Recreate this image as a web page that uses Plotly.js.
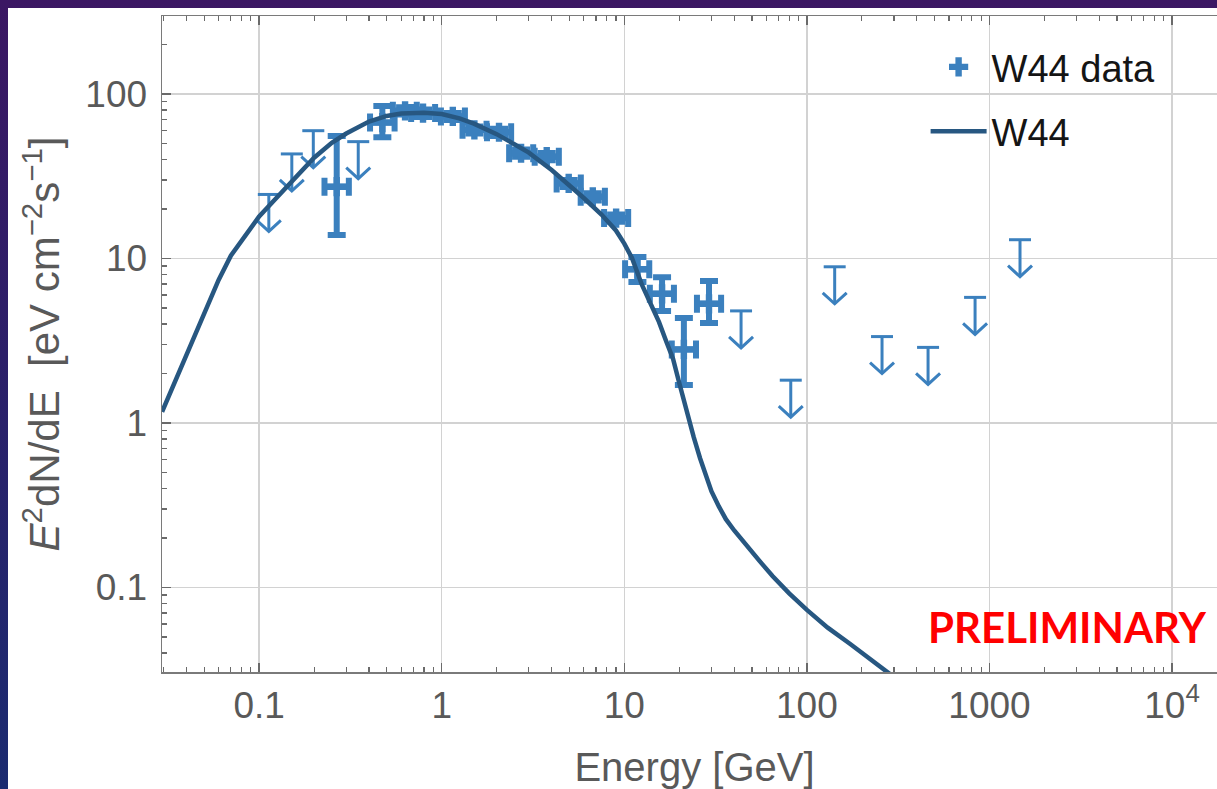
<!DOCTYPE html>
<html>
<head>
<meta charset="utf-8">
<script src="https://cdn.plot.ly/plotly-3.0.1.min.js"></script>
<style>
  html, body { margin:0; padding:0; width:1217px; height:789px; overflow:hidden;
    background: linear-gradient(180deg, #3b1763 0%, #2c1f69 45%, #1b2b70 100%); }
  #panel { position:absolute; left:8px; top:8px; width:1209px; height:781px; background:#ffffff; }
  #chart { position:absolute; left:0; top:0; }
</style>
</head>
<body>
<div id="panel"></div>
<div id="chart"></div>
<script>
// ---- W44 Fermi-LAT data points (E in GeV, E^2 dN/dE in eV cm^-2 s^-1) ----
var energy = [0.266, 0.473, 0.63, 0.79, 1.15, 1.51, 2.06, 2.72, 3.76, 4.96, 6.72, 9.02, 11.8, 16.1, 21.2, 29.1];
var flux   = [27.3, 67, 79, 76.5, 73, 60.5, 58.5, 43.6, 41.6, 28.6, 23.7, 17.6, 8.6, 6.1, 2.8, 5.3];
var energyLow  = [0.228, 0.405, 0.54, 0.68, 0.99, 1.30, 1.77, 2.34, 3.23, 4.26, 5.77, 7.75, 10.1, 13.8, 18.2, 25.0];
var energyHigh = [0.310, 0.552, 0.73, 0.92, 1.34, 1.76, 2.40, 3.17, 4.38, 5.78, 7.83, 10.5, 13.7, 18.7, 24.7, 33.9];
var fluxLow  = [13.9, 54.5, 75, 72.5, 69.5, 57.5, 55.5, 41.5, 39.5, 27.2, 22.5, 16.7, 7.2, 4.8, 1.7, 4.05];
var fluxHigh = [55.6, 84.5, 83, 80.5, 76.5, 63.5, 61.5, 46, 43.8, 30, 24.9, 18.5, 10.2, 7.7, 4.35, 7.3];

// ---- upper limits ----
var ulEnergy = [0.113, 0.151, 0.198, 0.349, 43.6, 81.6, 142, 258, 461, 834, 1470];
var ulFlux   = [24.5, 43.2, 59.8, 51.3, 4.8, 1.82, 8.9, 3.35, 2.88, 5.8, 13];

// ---- W44 model curve ----
var modelEnergy = [0.0294, 0.035, 0.04, 0.05, 0.06, 0.07, 0.08, 0.1, 0.125, 0.15, 0.2, 0.25, 0.3, 0.4, 0.5, 0.6, 0.8, 1.0, 1.25, 1.5, 2.0, 2.5, 3.0, 4.0, 5.0, 6.0, 7.5, 9.0, 10, 11, 12.5, 14, 15.5, 17, 18.5, 20, 22, 24, 26, 28, 30, 33, 36, 40, 47, 55, 65, 80, 100, 130, 172, 220, 285, 320];
var modelFlux   = [1.17, 1.83, 2.65, 4.7, 7.4, 10.4, 12.8, 18, 23.5, 29, 41, 50.5, 57.5, 68, 73.5, 76, 77, 75.5, 71, 66, 57, 49.5, 44, 34.5, 28, 23.3, 18.5, 14.8, 12.3, 10.1, 6.9, 5.2, 4.1, 3.12, 2.45, 1.75, 1.15, 0.82, 0.61, 0.47, 0.385, 0.31, 0.26, 0.222, 0.177, 0.145, 0.117, 0.092, 0.073, 0.057, 0.0455, 0.037, 0.030, 0.027];

// ---- axis ticks ----
var xTickVals = [0.1, 1, 10, 100, 1000, 10000];
var xTickText = ['0.1', '1', '10', '100', '1000', '10<sup>4</sup>'];
var yTickVals = [0.1, 1, 10, 100];
var yTickText = ['0.1', '1', '10', '100'];

var dataColor = '#3b80be';
var modelColor = '#275781';
var labelColor = '#595959';
var baseFont = 'Liberation Sans, Arial, sans-serif';

function minorTicks(decades) {
  var out = [];
  decades.forEach(function (d) { for (var k = 2; k <= 9; k++) out.push(d * k); });
  return out;
}

// upper-limit glyphs (cap, shaft, chevron) built from the UL arrays
var capF = Math.pow(10, 11 / 182.6);
var shaftF = Math.pow(10, -37 / 164.5);
var headX = Math.pow(10, 12 / 182.6);
var headY = Math.pow(10, 11 / 164.5);
var ulX = [], ulY = [];
for (var i = 0; i < ulEnergy.length; i++) {
  var e = ulEnergy[i], f = ulFlux[i], tip = f * shaftF;
  ulX.push(e / capF, e * capF, null, e, e, null, e / headX, e, e * headX, null);
  ulY.push(f, f, null, f, tip, null, tip * headY, tip, tip * headY, null);
}

var traces = [
  {
    x: energy, y: flux, type: 'scatter', mode: 'markers', name: 'W44 data',
    legendgroup: 'a',
    marker: { symbol: 'cross', size: 16, color: dataColor, line: { width: 0 } },
    error_x: { type: 'data', symmetric: false,
      array: energy.map(function (v, i) { return energyHigh[i] - v; }),
      arrayminus: energy.map(function (v, i) { return v - energyLow[i]; }),
      color: dataColor, thickness: 6, width: 9 },
    error_y: { type: 'data', symmetric: false,
      array: flux.map(function (v, i) { return fluxHigh[i] - v; }),
      arrayminus: flux.map(function (v, i) { return v - fluxLow[i]; }),
      color: dataColor, thickness: 6, width: 9 }
  },
  {
    x: ulX, y: ulY, type: 'scatter', mode: 'lines', showlegend: false,
    line: { color: dataColor, width: 3 }, hoverinfo: 'skip'
  },
  {
    x: modelEnergy, y: modelFlux, type: 'scatter', mode: 'lines', name: 'W44',
    legendgroup: 'b',
    line: { color: modelColor, width: 4.5 }
  }
];

var axisCommon = {
  type: 'log', ticks: 'inside', ticklen: 9, tickwidth: 1.5, tickcolor: '#6a6a6a',
  showline: true, linecolor: '#7a7a7a', linewidth: 1.5, mirror: 'ticks',
  showgrid: true, gridcolor: '#d2d2d2', gridwidth: 1.3, zeroline: false,
  tickfont: { family: baseFont, size: 37, color: labelColor }
};

var layout = {
  width: 1240, height: 789,
  margin: { l: 162, r: 13, t: 16, b: 117 },
  paper_bgcolor: 'rgba(0,0,0,0)', plot_bgcolor: 'rgba(0,0,0,0)',
  showlegend: true,
  xaxis: Object.assign({}, axisCommon, {
    range: [-1.532, 4.301], tickmode: 'array', tickvals: xTickVals, ticktext: xTickText,
    ticklabelstandoff: 0,
    minor: { tickvals: minorTicks([0.01, 0.1, 1, 10, 100, 1000, 10000]), ticks: 'inside', ticklen: 5,
             tickwidth: 1.2, tickcolor: '#6a6a6a', showgrid: false },
    title: { text: 'Energy [GeV]', standoff: 35,
             font: { family: baseFont, size: 40, color: labelColor } }
  }),
  yaxis: Object.assign({}, axisCommon, {
    range: [-1.514, 2.474], tickmode: 'array', tickvals: yTickVals, ticktext: yTickText,
    ticklabelstandoff: 6,
    minor: { tickvals: minorTicks([0.01, 0.1, 1, 10, 100]), ticks: 'inside', ticklen: 5,
             tickwidth: 1.2, tickcolor: '#6a6a6a', showgrid: false },
    title: { text: '<i>E</i><sup>2</sup>dN/dE\u00a0\u00a0[eV cm<sup>\u22122</sup>s<sup>\u22121</sup>]', standoff: 12,
             font: { family: baseFont, size: 42, color: labelColor } }
  }),
  legend: {
    x: 0.717, y: 0.97, xanchor: 'left', yanchor: 'top',
    bgcolor: 'rgba(0,0,0,0)', borderwidth: 0, itemwidth: 56,
    traceorder: 'grouped', tracegroupgap: 12,
    font: { family: baseFont, size: 38, color: '#151515' }
  },
  annotations: [{
    xref: 'paper', yref: 'paper', x: 0.983, y: 0.0686, xanchor: 'right', yanchor: 'middle',
    text: '<b>PRELIMINARY</b>', showarrow: false,
    font: { family: 'Lato, sans-serif', size: 42, color: '#ff0000' }
  }]
};

Plotly.newPlot('chart', traces, layout, { displayModeBar: false, staticPlot: true });
</script>
</body>
</html>
